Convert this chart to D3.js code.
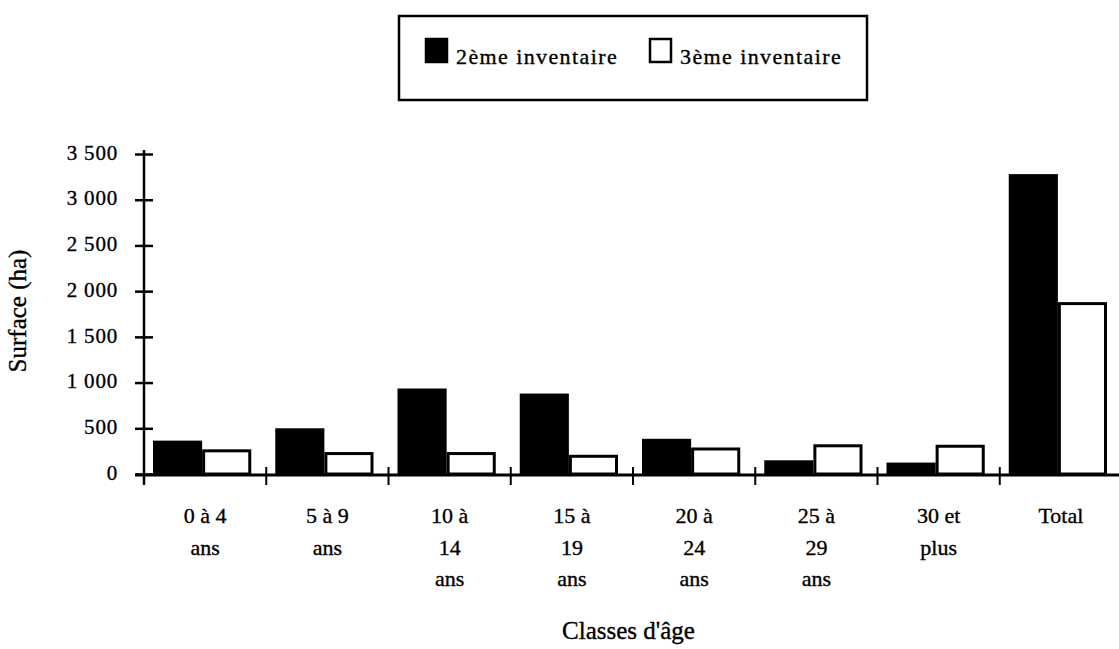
<!DOCTYPE html>
<html>
<head>
<meta charset="utf-8">
<script src="https://cdn.jsdelivr.net/npm/d3@7"></script>
<style>
  html, body { margin: 0; padding: 0; background: #fff; }
  svg { display: block; }
  svg text { font-family: "Liberation Serif", "DejaVu Serif", serif; fill: #000; stroke: #000; stroke-width: 0.35px; }
</style>
</head>
<body>
<svg id="chart" width="1119" height="649"></svg>
<script>
// Surface (ha) par classe d'âge, 2ème et 3ème inventaire
const categories = ["0-4", "5-9", "10-14", "15-19", "20-24", "25-29", "30+", "Total"];
const categoryLabels = [
  ["0 à 4", "ans"],
  ["5 à 9", "ans"],
  ["10 à", "14", "ans"],
  ["15 à", "19", "ans"],
  ["20 à", "24", "ans"],
  ["25 à", "29", "ans"],
  ["30 et", "plus"],
  ["Total"]
];
const inventaire2 = [365, 500, 935, 880, 385, 150, 125, 3280];
const inventaire3 = [270, 240, 240, 210, 290, 325, 320, 1880];
const seriesNames = ["2ème inventaire", "3ème inventaire"];
const yTicks = [0, 500, 1000, 1500, 2000, 2500, 3000, 3500];

const FONT = "Liberation Serif, DejaVu Serif, serif";
const svg = d3.select("#chart");
const margin = { left: 144, right: -3, top: 154, bottom: 175 };
const W = 1119, H = 649;

const x = d3.scaleBand().domain(categories).range([margin.left, W - margin.right]).paddingInner(0).paddingOuter(0);
const xs = d3.scaleBand().domain(seriesNames).range([9, x.bandwidth() - 15]).padding(0);
const y = d3.scaleLinear().domain([0, 3500]).range([H - margin.bottom, margin.top]);

const rows = categories.map((c, i) => ({ cat: c, values: [inventaire2[i], inventaire3[i]] }));

// bars: solid for the 2nd inventory, outlined for the 3rd
const groups = svg.append("g").selectAll("g").data(rows).join("g")
  .attr("transform", d => `translate(${x(d.cat)},0)`);

groups.selectAll("rect").data(d => d.values.map((v, j) => ({ v, s: seriesNames[j], j })))
  .join("rect")
  .attr("x", d => xs(d.s) + (d.j === 1 ? 1.5 : 0))
  .attr("y", d => y(d.v) + (d.j === 1 ? 1.5 : 0))
  .attr("width", d => xs.bandwidth() - (d.j === 1 ? 3 : 0))
  .attr("height", d => y(0) - y(d.v) - (d.j === 1 ? 1.5 : 0))
  .attr("fill", d => d.j === 0 ? "#000" : "#fff")
  .attr("stroke", d => d.j === 0 ? "none" : "#000")
  .attr("stroke-width", 3);

// y axis
const yAxis = d3.axisLeft(y).tickValues(yTicks)
  .tickFormat(d => d3.format(",")(d).replace(/,/g, " "))
  .tickSize(9).tickPadding(17);
const gy = svg.append("g").attr("transform", `translate(${margin.left},0)`).call(yAxis);
gy.attr("font-family", FONT).attr("font-size", 21);
gy.select(".domain").remove();
gy.selectAll(".tick line").attr("x1", -9).attr("x2", 9).attr("stroke", "#000").attr("stroke-width", 2.5);
gy.selectAll(".tick text").attr("dy", "0.25em").attr("fill", "#000").attr("letter-spacing", 0.8);
svg.append("line")
  .attr("x1", margin.left).attr("x2", margin.left)
  .attr("y1", y(3500) - 4).attr("y2", y(0) + 11)
  .attr("stroke", "#000").attr("stroke-width", 2.5);

// x axis
svg.append("line")
  .attr("x1", margin.left - 9).attr("x2", W)
  .attr("y1", y(0) + 1).attr("y2", y(0) + 1)
  .attr("stroke", "#000").attr("stroke-width", 3);
svg.append("g").selectAll("line").data(categories.slice(1)).join("line")
  .attr("x1", d => x(d)).attr("x2", d => x(d))
  .attr("y1", y(0) - 7).attr("y2", y(0) + 11)
  .attr("stroke", "#000").attr("stroke-width", 2);

// category labels, one tspan per line
const labG = svg.append("g").selectAll("text").data(rows).join("text")
  .attr("text-anchor", "middle")
  .attr("font-size", 22);
labG.each(function (d, i) {
  const t = d3.select(this);
  const cx = x(d.cat) + x.bandwidth() / 2;
  categoryLabels[i].forEach((line, k) => {
    t.append("tspan").attr("x", cx).attr("y", 523 + k * 31.5).text(line);
  });
});

// axis titles
svg.append("text")
  .attr("x", (margin.left + W) / 2 - 3).attr("y", 639)
  .attr("text-anchor", "middle").attr("font-size", 25)
  .text("Classes d'âge");
svg.append("text")
  .attr("transform", `translate(26,311) rotate(-90)`)
  .attr("text-anchor", "middle").attr("font-size", 25)
  .text("Surface (ha)");

// legend
const lg = svg.append("g");
lg.append("rect").attr("x", 399).attr("y", 16).attr("width", 468).attr("height", 84)
  .attr("fill", "#fff").attr("stroke", "#000").attr("stroke-width", 2.5);
const legendItems = [
  { name: seriesNames[0], x: 425, fill: "#000" },
  { name: seriesNames[1], x: 649, fill: "#fff" }
];
legendItems.forEach(it => {
  lg.append("rect").attr("x", it.x + 1).attr("y", 39).attr("width", 21).attr("height", 23)
    .attr("fill", it.fill).attr("stroke", "#000").attr("stroke-width", 2.5);
  lg.append("text").attr("x", it.x + 31).attr("y", 64)
    .attr("font-size", 22).attr("letter-spacing", 1.4)
    .text(it.name);
});
</script>
</body>
</html>
